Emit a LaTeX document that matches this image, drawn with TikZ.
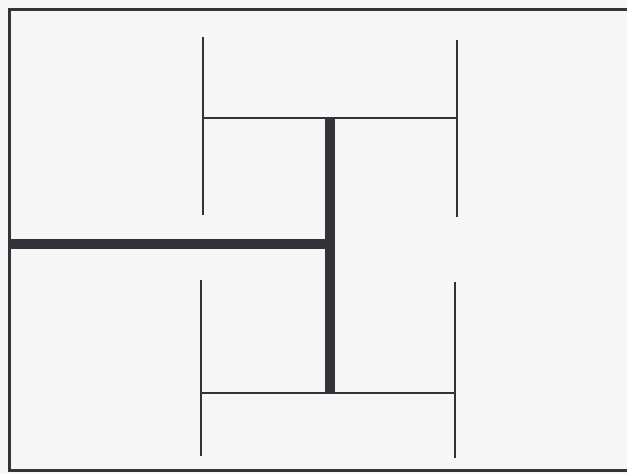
\documentclass[tikz,border=0pt]{standalone}
\usetikzlibrary{positioning}
\definecolor{lineC}{RGB}{50,52,58}
\definecolor{paperF}{RGB}{247,247,247}

\begin{document}
\begin{tikzpicture}[
  x=0.4mm, y=-0.4mm,
  wall/.style={draw=lineC, line width=1.2mm},
  tube/.style={draw=lineC, line width=3.9mm},
  fin/.style={draw=lineC, line width=0.95mm},
]
\fill[paperF] (0,0) rectangle (627,474);
\useasboundingbox (0,0) rectangle (627,474);

% ---- outer boundary (open on the right) ----
\coordinate (tR) at (627,9);
\coordinate (tL) at (9,9);
\coordinate (bL) at (9,470);
\coordinate (bR) at (627,470);
\draw[wall] (tR) -- (tL) -- (bL) -- (bR);

% ---- upper and lower branches ----
\coordinate (uL) at (203,118);
\coordinate (uR) at (457,118);
\coordinate (dL) at (201,393);
\coordinate (dR) at (455,393);
\draw[fin] (uL) -- (uR);
\draw[fin] (203,37) -- (203,215);
\draw[fin] (457,40) -- (457,217);
\draw[fin] (dL) -- (dR);
\draw[fin] (201,280) -- (201,456);
\draw[fin] (455,282) -- (455,458);

% ---- thick stem ----
\coordinate (sT) at (330,118);
\coordinate (sB) at (330,393);
\coordinate (sJ) at (330,244);
\draw[tube] (sT) -- (sB);
\draw[tube] (9,244) -- (sJ);

\end{tikzpicture}
\end{document}
